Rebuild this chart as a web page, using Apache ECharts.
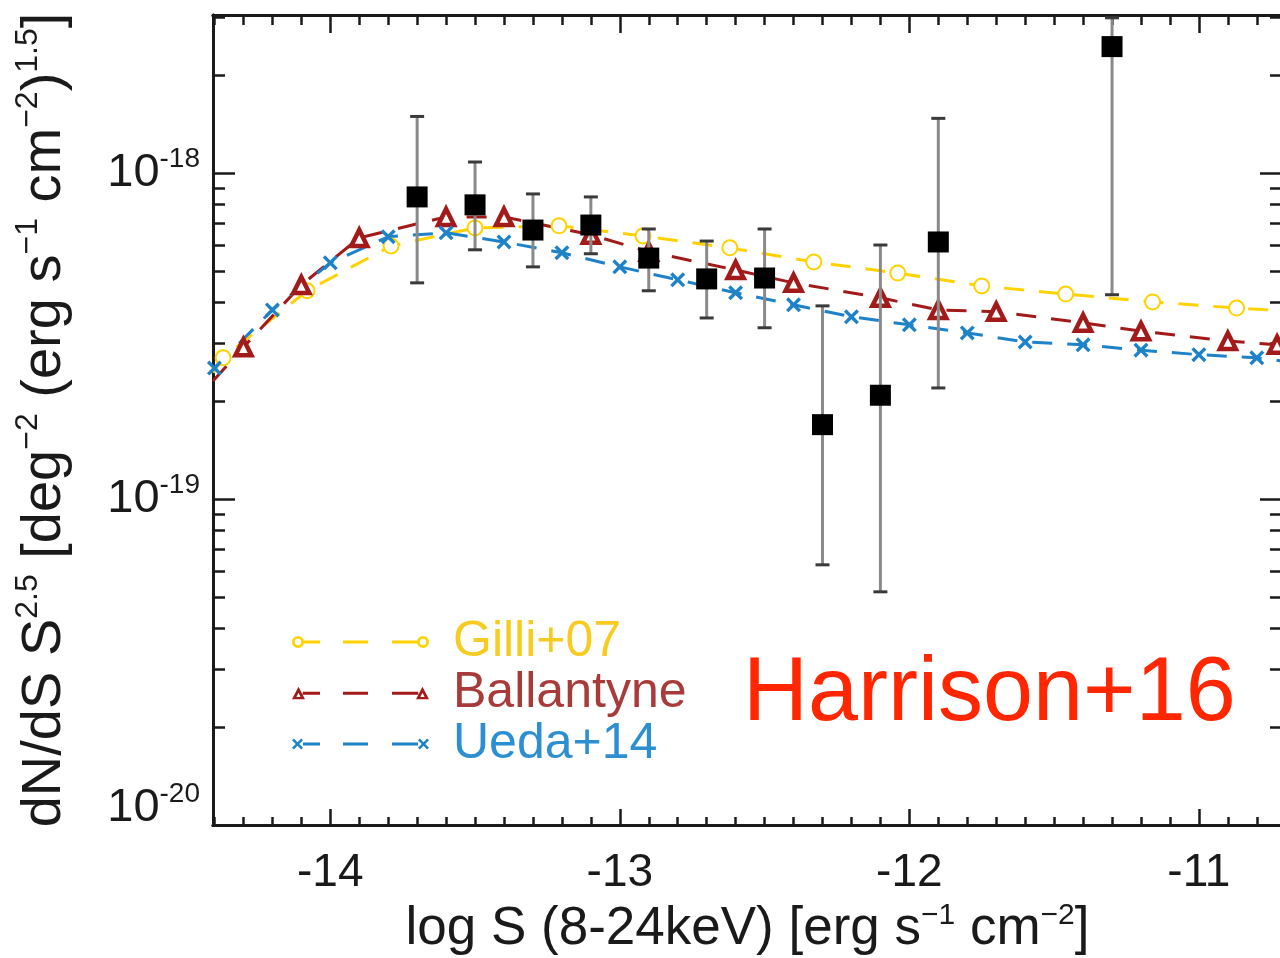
<!DOCTYPE html>
<html>
<head>
	<meta charset="utf-8">
	<title>dN/dS S^2.5 - Harrison+16</title>
	<script src="https://cdn.jsdelivr.net/npm/echarts@6/dist/echarts.min.js"></script>
	<style type="text/css">
		html, body { margin: 0; padding: 0; background: #fff; }
		#main { width: 1280px; height: 958px; }
	</style>
</head>
<body>

<div id="main"></div>

<script type="text/javascript">

	// ===========================================  data

	// measured points (black squares) with error bars
	var ptX  = [-13.7, -13.5, -13.3, -13.1, -12.9, -12.7, -12.5, -12.3, -12.1, -11.9, -11.3];
	var ptY  = [8.44e-19, 7.98e-19, 6.68e-19, 6.92e-19, 5.48e-19, 4.73e-19, 4.76e-19, 1.69e-19, 2.08e-19, 6.14e-19, 2.44e-18];
	var ptHi = [1.49e-18, 1.08e-18, 8.62e-19, 8.44e-19, 6.73e-19, 6.18e-19, 6.73e-19, 3.91e-19, 6.01e-19, 1.47e-18, 2.99e-18];
	var ptLo = [4.60e-19, 5.81e-19, 5.15e-19, 5.65e-19, 4.35e-19, 3.59e-19, 3.35e-19, 6.28e-20, 5.19e-20, 2.19e-19, 4.23e-19];

	// Gilli+07 model
	var gilliX = [-14.405, -14.37, -14.08, -13.79, -13.50, -13.21, -12.92, -12.62, -12.33, -12.04, -11.75, -11.46, -11.16, -10.87, -10.713];
	var gilliY = [2.44e-19, 2.71e-19, 4.35e-19, 5.97e-19, 6.78e-19, 6.88e-19, 6.41e-19, 5.89e-19, 5.33e-19, 4.93e-19, 4.50e-19, 4.25e-19, 4.02e-19, 3.85e-19, 3.78e-19];

	// Ballantyne model
	var ballX = [-14.405, -14.30, -14.10, -13.90, -13.60, -13.40, -13.10, -12.90, -12.60, -12.40, -12.10, -11.90, -11.70, -11.40, -11.20, -10.90, -10.73];
	var ballY = [2.30e-19, 2.92e-19, 4.53e-19, 6.32e-19, 7.33e-19, 7.33e-19, 6.46e-19, 5.73e-19, 5.04e-19, 4.60e-19, 4.14e-19, 3.80e-19, 3.75e-19, 3.47e-19, 3.27e-19, 3.05e-19, 2.97e-19];

	// Ueda+14 model
	var uedaX = [-14.4, -14.2, -14.0, -13.8, -13.6, -13.4, -13.2, -13.0, -12.8, -12.6, -12.4, -12.2, -12.0, -11.8, -11.6, -11.4, -11.2, -11.0, -10.8, -10.713];
	var uedaY = [2.52e-19, 3.80e-19, 5.30e-19, 6.37e-19, 6.55e-19, 6.14e-19, 5.69e-19, 5.15e-19, 4.70e-19, 4.29e-19, 3.94e-19, 3.62e-19, 3.42e-19, 3.23e-19, 3.03e-19, 2.97e-19, 2.86e-19, 2.77e-19, 2.71e-19, 2.65e-19];

	// axes
	var xTickLabels = [-14, -13, -12, -11];
	var yTickLabels = [1e-20, 1e-19, 1e-18];
	var X_MIN = -14.405, X_MAX = -10.713;
	var Y_MIN = 1e-20, Y_MAX = 3.05e-18;


	// ===========================================  helpers

	var FONT = '"Liberation Sans", Arial, sans-serif';
	var INK = '#1a1a1a';
	var C_GILLI = '#FFD200', C_BALL = '#A31A1A', C_UEDA = '#1E82C8';

	function lg(v) { return Math.log10(v); }

	// edge points only carry the line to the frame, no marker
	function lineData(xs, ys) {
		return xs.map(function(x, i) {
			var item = { value: [x, lg(ys[i])] };
			if (x <= X_MIN + 0.001 || x >= X_MAX - 0.001) item.symbol = 'none';
			return item;
		});
	}

	var yMajor = yTickLabels.map(lg);
	var yMinor = [];
	for (var n = -20; n <= -18; n++) {
		for (var k = 2; k <= 9; k++) {
			var v = n + Math.log10(k);
			if (v < lg(Y_MAX)) yMinor.push(v);
		}
	}
	var xMinor = [];
	for (var i = -144; i <= -108; i++) {
		if (i % 10 !== 0) xMinor.push(i / 10);
	}

	// legend icons: marker - dash - marker, like the plot's own legend
	var DASHES = 'M51,6.5L76,6.5L76,9.5L51,9.5Z';
	var ICON_GILLI = 'path://' +
		'M0,8A6,6 0 1 1 12,8A6,6 0 1 1 0,8Z M2.8,8A3.2,3.2 0 1 0 9.2,8A3.2,3.2 0 1 0 2.8,8Z' +
		'M11.9,6.5L28,6.5L28,9.5L11.9,9.5Z' + DASHES + 'M100,6.5L125.1,6.5L125.1,9.5L100,9.5Z' +
		'M125,8A6,6 0 1 1 137,8A6,6 0 1 1 125,8Z M127.8,8A3.2,3.2 0 1 0 134.2,8A3.2,3.2 0 1 0 127.8,8Z';
	var ICON_BALL = 'path://' +
		'M0,14L6.5,1.5L13,14Z M4.4,11.8L8.6,11.8L6.5,7.6Z' +
		'M10.7,6.5L28,6.5L28,9.5L10.7,9.5Z' + DASHES + 'M100,6.5L126.3,6.5L126.3,9.5L100,9.5Z' +
		'M124,14L130.5,1.5L137,14Z M128.4,11.8L132.6,11.8L130.5,7.6Z';
	var ICON_UEDA = 'path://' +
		'M1.8,2.5L5.5,6.2L9.2,2.5L11,4.3L7.3,8L11,11.7L9.2,13.5L5.5,9.8L1.8,13.5L0,11.7L3.7,8L0,4.3Z' +
		'M11,6.5L28,6.5L28,9.5L11,9.5Z' + DASHES + 'M100,6.5L126,6.5L126,9.5L100,9.5Z' +
		'M127.8,2.5L131.5,6.2L135.2,2.5L137,4.3L133.3,8L137,11.7L135.2,13.5L131.5,9.8L127.8,13.5L126,11.7L129.7,8L126,4.3Z';

	function xAx(pos, ticks, len, withLabel) {
		var ax = {
			type: 'value', position: pos, min: X_MIN, max: X_MAX,
			axisLine: { show: true, lineStyle: { color: INK, width: 3 } },
			axisTick: { inside: true, length: len, customValues: ticks, lineStyle: { color: INK, width: 2.5 } },
			axisLabel: { show: false },
			splitLine: { show: false }
		};
		if (withLabel) {
			ax.axisLabel = {
				show: true, customValues: ticks, margin: 25,
				fontSize: 46, fontFamily: FONT, color: INK,
				formatter: function(v) { return String(Math.round(v)); }
			};
			ax.name = '{t|log S (8-24keV) [erg s}{s|\u22121}{t| cm}{s|\u22122}{t|]}';
			ax.nameLocation = 'middle';
			ax.nameGap = 74;
			ax.nameTextStyle = {
				rich: {
					t: { fontSize: 53, lineHeight: 56, fontFamily: FONT, color: INK },
					s: { fontSize: 30, lineHeight: 30, verticalAlign: 'top', fontFamily: FONT, color: INK }
				}
			};
		}
		return ax;
	}

	function yAx(pos, ticks, len, withLabel) {
		var ax = {
			type: 'value', position: pos, min: lg(Y_MIN), max: lg(Y_MAX),
			axisLine: { show: true, lineStyle: { color: INK, width: 3 } },
			axisTick: { inside: true, length: len, customValues: ticks, lineStyle: { color: INK, width: 2.5 } },
			axisLabel: { show: false },
			splitLine: { show: false }
		};
		if (withLabel) {
			ax.axisLabel = {
				show: true, customValues: ticks, margin: 13,
				formatter: function(v) {
					var p = Math.round(v);
					// the lowest label sits a little above its tick in the original
					if (p === -20) return '{b|10}{s|' + p + '}\n{e| }';
					return '{b|10}{s|' + p + '}';
				},
				rich: {
					b: { fontSize: 47, lineHeight: 56, fontFamily: FONT, color: INK },
					s: { fontSize: 28, lineHeight: 28, verticalAlign: 'top', fontFamily: FONT, color: INK },
					e: { fontSize: 10, lineHeight: 34 }
				}
			};
			ax.name = '{t|dN/dS S}{s|2.5}{t| [deg}{s|\u22122}{t| (erg s}{s|\u22121}{t| cm}{s|\u22122}{t|)}{s|1.5}{t|]}';
			ax.nameLocation = 'middle';
			ax.nameRotate = 90;
			ax.nameGap = 135;
			ax.nameTextStyle = {
				rich: {
					t: { fontSize: 56, lineHeight: 66, fontFamily: FONT, color: INK },
					s: { fontSize: 32, lineHeight: 32, verticalAlign: 'top', fontFamily: FONT, color: INK }
				}
			};
		}
		return ax;
	}


	// ===========================================  render

	var myChart = echarts.init(document.getElementById('main'));

	var dash = [20, 15];

	var option = {
		animation: false,
		backgroundColor: '#fff',
		grid: { left: 213, top: 15, right: -2, bottom: 133, outerBoundsMode: 'none' },
		xAxis: [
			xAx('bottom', xTickLabels, 16, true),
			xAx('bottom', xMinor, 8, false),
			xAx('top', xTickLabels, 18, false),
			xAx('top', xMinor, 10, false)
		],
		yAxis: [
			yAx('left', yMajor, 22, true),
			yAx('left', yMinor, 12, false),
			yAx('right', yMajor, 22, false),
			yAx('right', yMinor, 12, false)
		],
		legend: {
			orient: 'vertical',
			left: 287,
			top: 612,
			itemWidth: 137,
			itemHeight: 16,
			itemGap: 1,
			textStyle: { fontSize: 50, lineHeight: 50, fontFamily: FONT, padding: [0, 0, 0, 19] },
			data: [
				{ name: 'Gilli+07', icon: ICON_GILLI, itemStyle: { color: C_GILLI, borderWidth: 0 }, textStyle: { color: '#F7CB1F' } },
				{ name: 'Ballantyne', icon: ICON_BALL, itemStyle: { color: C_BALL, borderWidth: 0 }, textStyle: { color: '#A83A3A' } },
				{ name: 'Ueda+14', icon: ICON_UEDA, itemStyle: { color: C_UEDA, borderWidth: 0 }, textStyle: { color: '#2C8FD2' } }
			]
		},
		graphic: [{
			type: 'text',
			left: 743,
			top: 650,
			style: {
				text: 'Harrison+16',
				font: '90px ' + FONT,
				fill: '#FF2600'
			}
		}],
		series: [
			{
				name: 'Gilli+07',
				type: 'line',
				data: lineData(gilliX, gilliY),
				symbol: 'emptyCircle',
				symbolSize: 15,
				lineStyle: { color: C_GILLI, width: 3, type: dash },
				itemStyle: { color: C_GILLI, borderColor: C_GILLI, borderWidth: 3 },
				z: 3
			},
			{
				name: 'Ballantyne',
				type: 'line',
				data: lineData(ballX, ballY),
				symbol: 'triangle',
				symbolSize: 16,
				lineStyle: { color: C_BALL, width: 3, type: dash },
				itemStyle: { color: '#fff', borderColor: C_BALL, borderWidth: 4.5 },
				z: 3
			},
			{
				name: 'Ueda+14',
				type: 'line',
				data: lineData(uedaX, uedaY),
				symbol: 'path://M1.6,0 L5,3.4 L8.4,0 L10,1.6 L6.6,5 L10,8.4 L8.4,10 L5,6.6 L1.6,10 L0,8.4 L3.4,5 L0,1.6 Z',
				symbolSize: 15,
				lineStyle: { color: C_UEDA, width: 3, type: dash },
				itemStyle: { color: C_UEDA },
				z: 3
			},
			{
				name: 'errors',
				type: 'custom',
				data: ptX.map(function(x, i) { return [x, lg(ptLo[i]), lg(ptHi[i])]; }),
				encode: { x: 0, y: [1, 2] },
				renderItem: function(params, api) {
					var x = api.value(0);
					var top = api.coord([x, api.value(2)]);
					var bot = api.coord([x, api.value(1)]);
					var cap = 7;
					return {
						type: 'group',
						children: [
							{ type: 'line', shape: { x1: top[0], y1: top[1], x2: bot[0], y2: bot[1] }, style: { stroke: '#8a8a8a', lineWidth: 3 } },
							{ type: 'line', shape: { x1: top[0] - cap, y1: top[1], x2: top[0] + cap, y2: top[1] }, style: { stroke: '#3a3a3a', lineWidth: 3 } },
							{ type: 'line', shape: { x1: bot[0] - cap, y1: bot[1], x2: bot[0] + cap, y2: bot[1] }, style: { stroke: '#3a3a3a', lineWidth: 3 } }
						]
					};
				},
				z: 4
			},
			{
				name: 'Harrison+16',
				type: 'scatter',
				data: ptX.map(function(x, i) { return [x, lg(ptY[i])]; }),
				symbol: 'rect',
				symbolSize: 21,
				itemStyle: { color: '#000', opacity: 1 },
				z: 5
			}
		]
	};

	myChart.setOption(option);

</script>

</body>
</html>
